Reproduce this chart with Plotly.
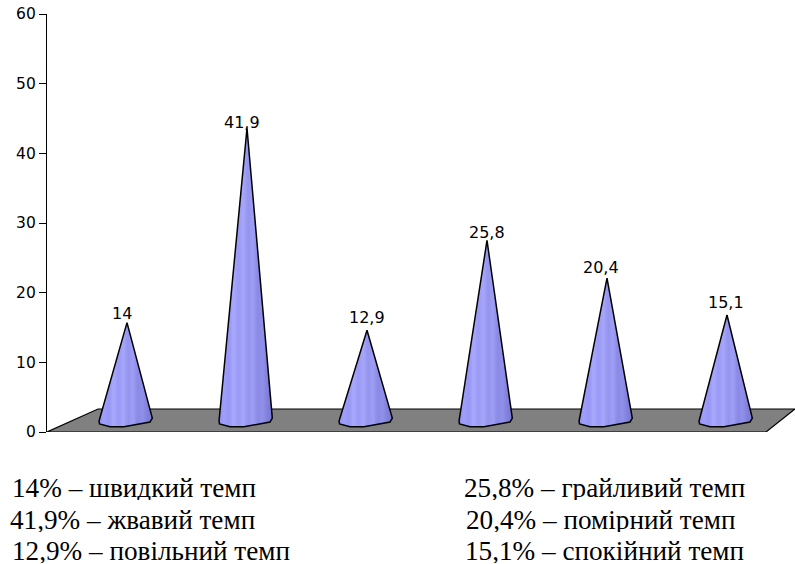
import plotly.graph_objects as go

# --- data ---
categories = [0, 1, 2, 3, 4, 5]
values = [14, 41.9, 12.9, 25.8, 20.4, 15.1]
value_labels = ["14", "41,9", "12,9", "25,8", "20,4", "15,1"]
y_ticks = [0, 10, 20, 30, 40, 50, 60]
left_notes = ["14% – швидкий темп", "41,9% – жвавий темп", "12,9% – повільний темп"]
right_notes = ["25,8% – грайливий темп", "20,4% – помірний темп", "15,1% – спокійний темп"]

# --- styling / layout constants ---
W, H = 795, 564
ML, MT, MB = 47, 14, 132
X0_PX, X_STEP_PX = 127, 120
x_range = [(ML - X0_PX) / X_STEP_PX, (W - X0_PX) / X_STEP_PX]
DEPTH = 1.7          # pseudo-3D lift of a cone apex above its value
label_yshift = [-2, -6, 1, -4, -1, 1]
label_xshift = [-5, -5, 0, 0, -6, -1]
left_note_x = [10, 8, 10]
right_note_x = [462, 464, 463]
note_y = [488, 520, 551]
NOTE_SIZE = 27.2
TICK_FONT = dict(family="DejaVu Sans", size=15.5, color="#000000")
VALUE_FONT = dict(family="DejaVu Sans", size=16, color="#000000")

stops = ["#8e8eee", "#a0a0fa", "#9696f4", "#a8a8fc", "#9a9af6", "#a6a6fa",
         "#9494ee", "#9e9ef4", "#8a8ae6", "#9090ea", "#8080dc", "#7878d4"]
gradient = [[i / (len(stops) - 1), c] for i, c in enumerate(stops)]

fig = go.Figure()

# floor of the pseudo-3D plot
floor_x = [x_range[0], (98 - X0_PX) / X_STEP_PX, (795 - X0_PX) / X_STEP_PX, (766 - X0_PX) / X_STEP_PX, x_range[0]]
floor_y = [0, 3.3, 3.3, 0, 0]
fig.add_trace(go.Scatter(x=floor_x, y=floor_y, mode="lines", fill="toself",
                         fillcolor="#808080", line=dict(color="#000000", width=1.2),
                         hoverinfo="skip", showlegend=False, cliponaxis=False))

# cones
base_dx = [-0.233, -0.229, -0.142, -0.025, 0.192, 0.211]
base_dy = [1.58, 1.15, 0.76, 0.76, 1.44, 2.0]
for c, v in zip(categories, values):
    xs = [c] + [c + d for d in base_dx] + [c]
    ys = [v + DEPTH] + base_dy + [v + DEPTH]
    fig.add_trace(go.Scatter(
        x=xs, y=ys, mode="lines", fill="toself",
        fillgradient=dict(type="horizontal", colorscale=gradient),
        line=dict(color="#000000", width=1.5),
        hoverinfo="skip", showlegend=False))

annotations = []
for c, v, t, ys, xs in zip(categories, values, value_labels, label_yshift, label_xshift):
    annotations.append(dict(x=c, y=v + DEPTH, text=t, showarrow=False, yanchor="bottom",
                            yshift=ys, xshift=xs, font=VALUE_FONT))

for notes, note_x in ((left_notes, left_note_x), (right_notes, right_note_x)):
    for t, px, py in zip(notes, note_x, note_y):
        annotations.append(dict(xref="paper", yref="paper", x=(px - ML) / (W - ML),
                                y=1 - (py - MT) / (H - MT - MB), text=t, showarrow=False,
                                xanchor="left", yanchor="middle", height=24,
                                font=dict(family="Liberation Serif", size=NOTE_SIZE, color="#000000")))

fig.update_layout(
    width=W, height=H, autosize=False,
    margin=dict(l=ML, r=0, t=MT, b=MB, pad=0),
    paper_bgcolor="#ffffff", plot_bgcolor="#ffffff",
    showlegend=False, annotations=annotations,
    xaxis=dict(range=x_range, visible=False, fixedrange=True),
    yaxis=dict(range=[0, 60], tickvals=y_ticks, ticks="outside", ticklen=7, tickwidth=1.2,
               tickcolor="#000000", showline=True, linecolor="#000000", linewidth=1.2,
               showgrid=False, zeroline=False, fixedrange=True,
               tickfont=TICK_FONT),
)
fig.write_html("out.html", config=dict(displayModeBar=False),
               post_script="document.body.style.margin='0';document.body.style.overflow='hidden';")
